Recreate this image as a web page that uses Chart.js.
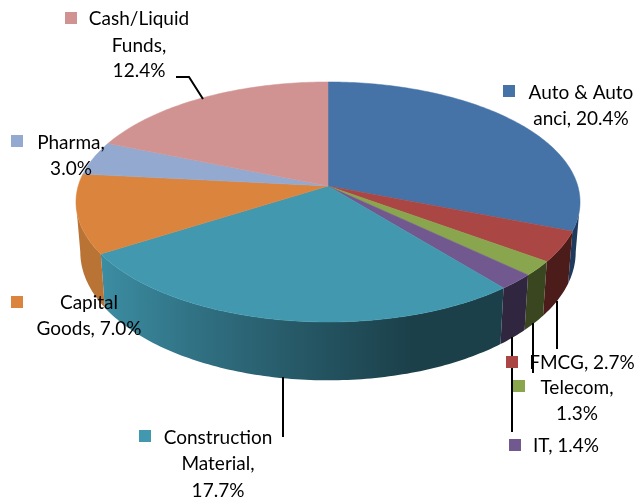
<!DOCTYPE html>
<html>
<head>
<meta charset="utf-8">
<style>
  html, body { margin: 0; padding: 0; background: #fff; }
  canvas { display: block; }
</style>
<script src="https://cdn.jsdelivr.net/npm/chart.js@4"></script>
</head>
<body>
<canvas id="pieChart" width="637" height="500"></canvas>
<script>
var categories = ['Auto & Auto anci', 'FMCG', 'Telecom', 'IT', 'Construction Material', 'Capital Goods', 'Pharma', 'Cash/Liquid Funds'];
var shareValues = [20.4, 2.7, 1.3, 1.4, 17.7, 7.0, 3.0, 12.4];

var sliceColors = ['#4572a7', '#aa4643', '#89a54e', '#71588f', '#4198af', '#db843d', '#93a9cf', '#d19392'];
var wallColors = ['#1e3a5c', '#4b1c1a', '#3a4620', '#30263f', '#4198af', '#b97435', '#93a9cf', '#d19392'];

// data labels, wrapped the way the picture wraps them
var labelBoxes = [
  { key: [503, 85], cx: 581, lines: [['Auto & Auto', 99], ['anci, 20.4%', 125]] },
  { key: [506, 356], cx: 582, lines: [['FMCG, 2.7%', 369]] },
  { key: [513, 380], cx: 577, lines: [['Telecom,', 394], ['1.3%', 420]] },
  { key: [509, 439], cx: 566, lines: [['IT, 1.4%', 452]] },
  { key: [139, 430], cx: 218, lines: [['Construction', 444], ['Material,', 470], ['17.7%', 497]] },
  { key: [11, 296], cx: 89, lines: [['Capital', 309], ['Goods, 7.0%', 335]] },
  { key: [11, 135], cx: 71, lines: [['Pharma,', 149], ['3.0%', 175]] },
  { key: [65, 12], cx: 139, lines: [['Cash/Liquid', 25], ['Funds,', 52], ['12.4%', 77]] }
];
var leaderLines = [
  { w: 2, pts: [[557, 301], [557, 349]] },
  { w: 2, pts: [[533, 323], [533, 373]] },
  { w: 2, pts: [[512, 337], [512, 432]] },
  { w: 2, pts: [[283, 377], [283, 437]] },
  { w: 2, pts: [[176, 77], [189, 77], [203, 99]] }
];

// projection of the tilted disc: k is the perspective strength
var k = 0.133;
var topDisc = { cx: 328, cy: 186, a: 117.9, b: 249.8 };
var bottomDisc = { cx: 328, cy: 235, a: 126, b: 245.5 };

function project(disc, theta) {
  var u = Math.sin(theta), v = -Math.cos(theta), d = 1 - k * v;
  return [disc.cx + disc.b * u / d, disc.cy + disc.a * v / d];
}

function shade(hex, f) {
  var n = parseInt(hex.slice(1), 16);
  return 'rgb(' + Math.round((n >> 16) * f) + ',' + Math.round(((n >> 8) & 255) * f) + ',' + Math.round((n & 255) * f) + ')';
}

var tiltedPie = {
  id: 'tiltedPie',
  beforeDatasetsDraw: function (chart) {
    var ctx = chart.ctx;
    var arcs = chart.getDatasetMeta(0).data;
    var right = Math.PI / 2 + Math.asin(k);
    var left = 2 * Math.PI - right;

    // side walls first
    arcs.forEach(function (arc, i) {
      var t1 = Math.max(arc.startAngle + Math.PI / 2, right);
      var t2 = Math.min(arc.endAngle + Math.PI / 2, left);
      if (t2 <= t1) return;
      var steps = Math.max(2, Math.ceil((t2 - t1) * 60)), s, p;
      ctx.beginPath();
      for (s = 0; s <= steps; s++) {
        p = project(topDisc, t1 + (t2 - t1) * s / steps);
        if (s === 0) ctx.moveTo(p[0], p[1]); else ctx.lineTo(p[0], p[1]);
      }
      for (s = steps; s >= 0; s--) {
        p = project(bottomDisc, t1 + (t2 - t1) * s / steps);
        ctx.lineTo(p[0], p[1]);
      }
      ctx.closePath();
      if (i === 4) {
        var g = ctx.createLinearGradient(100, 0, 500, 0);
        g.addColorStop(0, shade(wallColors[i], 0.93));
        g.addColorStop(0.25, shade(wallColors[i], 0.74));
        g.addColorStop(0.5, shade(wallColors[i], 0.58));
        g.addColorStop(0.78, shade(wallColors[i], 0.42));
        g.addColorStop(1, shade(wallColors[i], 0.42));
        ctx.fillStyle = g;
      } else {
        ctx.fillStyle = wallColors[i];
      }
      ctx.fill();
    });

    // top face
    arcs.forEach(function (arc, i) {
      var t1 = arc.startAngle + Math.PI / 2;
      var t2 = arc.endAngle + Math.PI / 2;
      var steps = Math.max(2, Math.ceil((t2 - t1) * 60)), s, p;
      ctx.beginPath();
      ctx.moveTo(topDisc.cx, topDisc.cy);
      for (s = 0; s <= steps; s++) {
        p = project(topDisc, t1 + (t2 - t1) * s / steps);
        ctx.lineTo(p[0], p[1]);
      }
      ctx.closePath();
      ctx.fillStyle = sliceColors[i];
      ctx.fill();
      ctx.strokeStyle = sliceColors[i];
      ctx.lineWidth = 0.5;
      ctx.stroke();
    });
    return false;
  },
  afterDraw: function (chart) {
    var ctx = chart.ctx;
    ctx.save();
    ctx.strokeStyle = '#000';
    leaderLines.forEach(function (l) {
      ctx.lineWidth = l.w;
      ctx.beginPath();
      l.pts.forEach(function (p, i) {
        if (i === 0) ctx.moveTo(p[0], p[1]); else ctx.lineTo(p[0], p[1]);
      });
      ctx.stroke();
    });
    ctx.font = '19px Lato';
    ctx.textAlign = 'center';
    ctx.textBaseline = 'alphabetic';
    labelBoxes.forEach(function (box, i) {
      ctx.fillStyle = sliceColors[i];
      ctx.fillRect(box.key[0], box.key[1], 12, 12);
      ctx.fillStyle = '#000';
      box.lines.forEach(function (line) {
        ctx.fillText(line[0], box.cx, line[1]);
      });
    });
    ctx.restore();
  }
};

document.addEventListener('DOMContentLoaded', function () {
  var ctx = document.getElementById('pieChart').getContext('2d');
  new Chart(ctx, {
    type: 'pie',
    data: {
      labels: categories,
      datasets: [{ data: shareValues, backgroundColor: sliceColors, borderWidth: 0 }]
    },
    options: {
      responsive: false,
      animation: false,
      plugins: { legend: { display: false }, tooltip: { enabled: false } }
    },
    plugins: [tiltedPie]
  });
});
</script>
</body>
</html>
